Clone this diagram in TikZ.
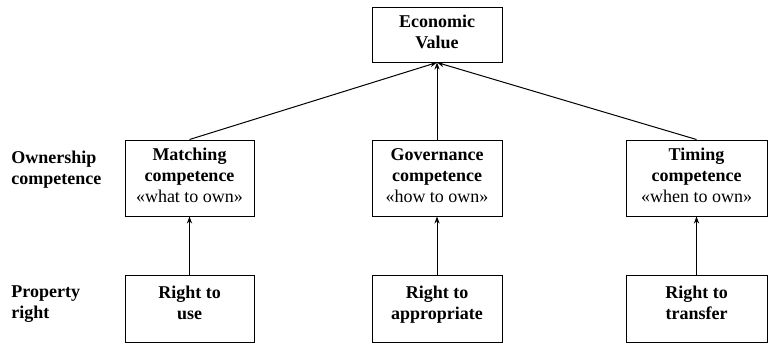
\documentclass[tikz,border=0pt]{standalone}
\usepackage{fontspec}
\setmainfont{Liberation Serif}
\usetikzlibrary{arrows.meta}
\begin{document}
\begin{tikzpicture}[x=1pt, y=1pt, font=\fontsize{9}{10.5}\selectfont]
      \tikzstyle{box}=[draw, line width=0.5pt, align=center, inner sep=0pt, text depth=2.5pt]
      \tikzstyle{link}=[line width=0.5pt, -{Stealth[length=3.5pt, width=2.6pt]}]
      \useasboundingbox (0,0) rectangle (384.5,-172);

      \path (218.5,-17.25) node[box, minimum width=65pt, minimum height=27.5pt] (value)
        {\textbf{Economic}\\\textbf{Value}};

      \foreach \n/\x/\w/\name/\how/\right in
        {match/94.75/64.5/Matching/what/use,
         gov/218.5/65/Governance/how/appropriate,
         time/348.25/70.5/Timing/when/transfer}
      {
        \path (\x,-89) node[box, minimum width=\w pt, minimum height=38pt] (\n)
          {\textbf{\name}\\\textbf{competence}\\«\how{} to own»};
        \path (\x,-154.25) node[box, text depth=6pt, minimum width=\w pt, minimum height=33.5pt] (r\n)
          {\textbf{Right to}\\\textbf{\right}};
        \draw[link] (r\n) -- (\n);
        \draw[link] (\n.north) -- (value.south);
      }

      \path (5.5,-85) node[anchor=west, align=left, inner sep=0pt] (own)
        {\textbf{Ownership}\\\textbf{competence}};
      \path (5.5,-152) node[anchor=west, align=left, inner sep=0pt] (prop)
        {\textbf{Property}\\\textbf{right}};
    \end{tikzpicture}
\end{document}
